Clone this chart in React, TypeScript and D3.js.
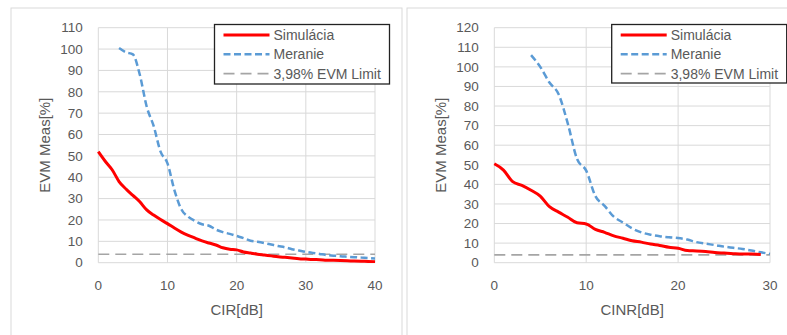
import { useEffect, useRef } from 'react';
import * as d3 from 'd3';

// left chart: CIR
const cirSimX = d3.range(0, 41);
const cirSimY = [52, 47.5, 43.5, 38, 34.5, 31.5, 28.5, 24.7, 22.3, 20.2, 18.3, 16.2, 14.3, 12.8, 11.5, 10.2, 9.2, 8.3, 7, 6.3, 6, 5, 4.5, 4, 3.6, 3.2, 2.8, 2.5, 2.2, 1.9, 1.7, 1.5, 1.4, 1.2, 1.1, 1, 0.9, 0.8, 0.7, 0.6, 0.5];
const cirMeasX = d3.range(3, 41);
const cirMeasY = [100.5, 98.5, 97.5, 88, 73, 64, 52, 46.5, 34, 25, 21.5, 19.5, 18, 17.3, 15.5, 14.3, 13.5, 12.5, 11.5, 10.3, 9.8, 9.2, 8.5, 7.8, 7.2, 6.3, 5.7, 5.1, 4.6, 4.1, 3.6, 3.3, 3, 2.8, 2.6, 2.4, 2.2, 2];

// right chart: CINR
const cinrSimX = d3.range(0, 30);
const cinrSimY = [50.5, 47.3, 41.4, 39.5, 37, 34, 28.6, 25.8, 23.2, 20.4, 19.8, 17, 15.5, 13.7, 12.5, 11.2, 10.5, 9.5, 8.8, 7.85, 7.4, 6.2, 6, 5.7, 5.2, 4.9, 4.6, 4.4, 4.4, 4.2];
const cinrMeasX = d3.range(4, 31);
const cinrMeasY = [106, 100, 92, 86, 71, 53, 47, 34, 29, 23.5, 20.5, 17.5, 15.5, 14.3, 13.5, 13, 12.6, 11.8, 10.5, 9.7, 9, 8.2, 7.6, 7, 6.2, 5.3, 4.5];

const evmLimit = 3.98;
const legendLabels = ['Simulácia', 'Meranie', '3,98% EVM Limit'];

const FONT = '"Liberation Sans", Arial, sans-serif';
const TEXT = '#595959';
const GRID = '#d9d9d9';
const MEAS_DASH = '7 3.5';
const LIMIT_DASH = '11 6';

const drawChart = (svg, cfg) => {
  const { left, right, top, bottom, xMax, yMax, xTitle, sim, meas, legend } = cfg;
  const x = d3.scaleLinear().domain([0, xMax]).range([left, right]);
  const y = d3.scaleLinear().domain([0, yMax]).range([bottom, top]);
  const g = svg.append('g');

  // grid
  g.selectAll('.hg')
    .data(d3.range(0, yMax + 1, 10))
    .enter()
    .append('line')
    .attr('x1', left)
    .attr('x2', right)
    .attr('y1', d => y(d))
    .attr('y2', d => y(d))
    .attr('stroke', GRID)
    .attr('stroke-width', 1);
  g.selectAll('.vg')
    .data(d3.range(0, xMax + 1, 10))
    .enter()
    .append('line')
    .attr('x1', d => x(d))
    .attr('x2', d => x(d))
    .attr('y1', top)
    .attr('y2', bottom)
    .attr('stroke', GRID)
    .attr('stroke-width', 1);

  // tick labels
  g.selectAll('.yt')
    .data(d3.range(0, yMax + 1, 10))
    .enter()
    .append('text')
    .attr('x', left - 15.5)
    .attr('y', d => y(d))
    .attr('dy', '0.35em')
    .attr('text-anchor', 'end')
    .style('font-family', FONT)
    .style('font-size', '13.5px')
    .attr('fill', TEXT)
    .text(d => d);
  g.selectAll('.xt')
    .data(d3.range(0, xMax + 1, 10))
    .enter()
    .append('text')
    .attr('x', d => x(d))
    .attr('y', bottom + 23)
    .attr('dy', '0.35em')
    .attr('text-anchor', 'middle')
    .style('font-family', FONT)
    .style('font-size', '13.5px')
    .attr('fill', TEXT)
    .text(d => d);

  // axis titles
  g.append('text')
    .attr('x', (left + right) / 2)
    .attr('y', 310)
    .attr('dy', '0.35em')
    .attr('text-anchor', 'middle')
    .style('font-family', FONT)
    .style('font-size', '15px')
    .attr('fill', TEXT)
    .text(xTitle);
  g.append('text')
    .attr('transform', `translate(${left - 54},${(top + bottom) / 2}) rotate(-90)`)
    .attr('dy', '0.35em')
    .attr('text-anchor', 'middle')
    .style('font-family', FONT)
    .style('font-size', '15px')
    .attr('fill', TEXT)
    .text('EVM Meas[%]');

  // limit line
  g.append('line')
    .attr('x1', x(0))
    .attr('x2', x(xMax))
    .attr('y1', y(evmLimit))
    .attr('y2', y(evmLimit))
    .attr('stroke', '#a5a5a5')
    .attr('stroke-width', 1.6)
    .attr('stroke-dasharray', LIMIT_DASH);

  const line = d3
    .line()
    .x(d => x(d[0]))
    .y(d => y(d[1]))
    .curve(d3.curveMonotoneX);

  g.append('path')
    .datum(d3.zip(meas[0], meas[1]))
    .attr('fill', 'none')
    .attr('stroke', '#5b9bd5')
    .attr('stroke-width', 2.5)
    .attr('stroke-dasharray', MEAS_DASH)
    .attr('d', line);

  g.append('path')
    .datum(d3.zip(sim[0], sim[1]))
    .attr('fill', 'none')
    .attr('stroke', '#ff0000')
    .attr('stroke-width', 3)
    .attr('stroke-linejoin', 'round')
    .attr('d', line);

  // legend
  const lg = g.append('g');
  lg.append('rect')
    .attr('x', legend.x)
    .attr('y', legend.y)
    .attr('width', legend.w)
    .attr('height', legend.h)
    .attr('fill', 'white')
    .attr('stroke', '#222')
    .attr('stroke-width', 1.3);
  const styles = [
    { color: '#ff0000', dash: null, width: 3 },
    { color: '#5b9bd5', dash: MEAS_DASH, width: 2.5 },
    { color: '#a5a5a5', dash: LIMIT_DASH, width: 1.6 }
  ];
  legendLabels.forEach((label, i) => {
    const ly = legend.y + 10.5 + i * 19.3;
    lg.append('line')
      .attr('x1', legend.x + 9)
      .attr('x2', legend.x + 55)
      .attr('y1', ly)
      .attr('y2', ly)
      .attr('stroke', styles[i].color)
      .attr('stroke-width', styles[i].width)
      .attr('stroke-dasharray', styles[i].dash);
    lg.append('text')
      .attr('x', legend.x + 59)
      .attr('y', ly)
      .attr('dy', '0.35em')
      .style('font-family', FONT)
      .style('font-size', '14px')
      .attr('fill', TEXT)
      .text(label);
  });
};

const App = () => {
  const svgRef = useRef(null);

  useEffect(() => {
    const svg = d3.select(svgRef.current);
    svg.selectAll('*').remove();

    // panels
    svg.append('rect').attr('x', 11).attr('y', 8).attr('width', 391).attr('height', 340)
      .attr('fill', 'white').attr('stroke', GRID).attr('stroke-width', 1);
    svg.append('rect').attr('x', 407).attr('y', 8).attr('width', 400).attr('height', 340)
      .attr('fill', 'white').attr('stroke', GRID).attr('stroke-width', 1);

    drawChart(svg, {
      left: 98.3, right: 375, top: 27.7, bottom: 262.7,
      xMax: 40, yMax: 110, xTitle: 'CIR[dB]',
      sim: [cirSimX, cirSimY], meas: [cirMeasX, cirMeasY],
      legend: { x: 214.5, y: 24.5, w: 175, h: 59.5 }
    });
    drawChart(svg, {
      left: 494.3, right: 770, top: 27.7, bottom: 262.7,
      xMax: 30, yMax: 120, xTitle: 'CINR[dB]',
      sim: [cinrSimX, cinrSimY], meas: [cinrMeasX, cinrMeasY],
      legend: { x: 611.7, y: 24.5, w: 175, h: 58.5 }
    });
  }, []);

  return (
    <div style={{ position: 'absolute', left: 0, top: 0 }}>
      <svg ref={svgRef} width={787} height={335} style={{ display: 'block', background: 'white' }} />
    </div>
  );
};

export default App;
